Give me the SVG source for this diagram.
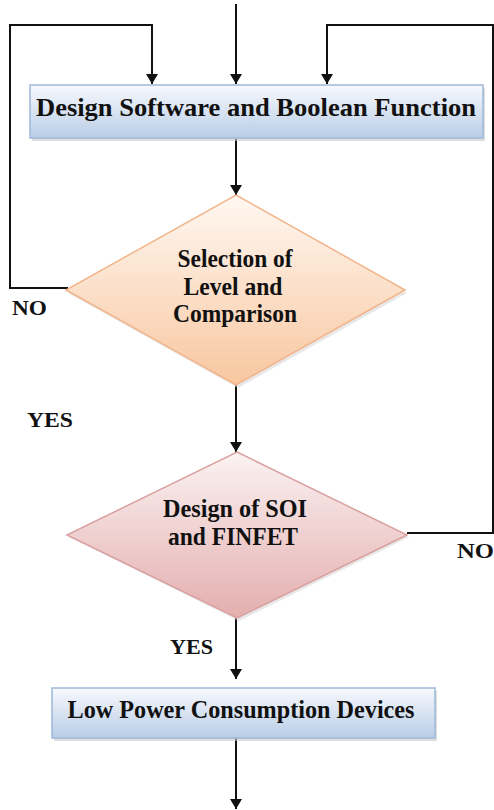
<svg xmlns="http://www.w3.org/2000/svg" width="494" height="810" viewBox="0 0 494 810">
<style>
.t{font-family:'Liberation Serif',serif;font-weight:700;font-size:25px;fill:#111}
.lbl{font-family:'Liberation Serif',serif;font-weight:700;font-size:22px;fill:#111}
.ln{fill:none;stroke:#111;stroke-width:2}
</style>
<defs>
<linearGradient id="gBox" x1="0" y1="0" x2="0" y2="1">
<stop offset="0" stop-color="#f7f9fd"/>
<stop offset="1" stop-color="#b9cde6"/>
</linearGradient>
<linearGradient id="gD1" x1="0" y1="0" x2="0" y2="1">
<stop offset="0" stop-color="#fff8f2"/>
<stop offset="1" stop-color="#f8c7a0"/>
</linearGradient>
<linearGradient id="gD2" x1="0" y1="0" x2="0" y2="1">
<stop offset="0" stop-color="#fbf2f2"/>
<stop offset="1" stop-color="#e4aeae"/>
</linearGradient>
<marker id="ah" viewBox="0 0 10 12" refX="10" refY="6" markerWidth="10" markerHeight="12" markerUnits="userSpaceOnUse" orient="auto">
<path d="M0,0 L10,6 L0,12 z" fill="#111"/>
</marker>
</defs>
<g id="connectors">
<path class="ln" d="M236,4 V84" marker-end="url(#ah)"/>
<path class="ln" d="M68,288 H10 V25 H152 V84" marker-end="url(#ah)"/>
<path class="ln" d="M407,533 H493 V25 H327 V84" marker-end="url(#ah)"/>
<path class="ln" d="M236,139 V195" marker-end="url(#ah)"/>
<path class="ln" d="M236,385 V452" marker-end="url(#ah)"/>
<path class="ln" d="M236,618 V679" marker-end="url(#ah)"/>
<path class="ln" d="M236,738 V809" marker-end="url(#ah)"/>
</g>
<g id="box-design-software">
<rect x="32" y="88" width="453" height="53" fill="#c8c8c8" opacity="0.6"/>
<rect x="30" y="85" width="453" height="53" fill="url(#gBox)" stroke="#9db8da" stroke-width="1.5"/>
<text class="t" x="256" y="116" text-anchor="middle" textLength="440" lengthAdjust="spacingAndGlyphs">Design Software and Boolean Function</text>
</g>
<g id="diamond-selection">
<path d="M238,197 L407,293 L238,388 L68,293 Z" fill="#d8d8d8" opacity="0.6"/>
<path d="M236,195 L405,290 L236,385 L66,290 Z" fill="url(#gD1)" stroke="#f2b48a" stroke-width="1.5"/>
<text class="t" x="235" y="267" text-anchor="middle" textLength="115" lengthAdjust="spacingAndGlyphs">Selection of</text>
<text class="t" x="233" y="295" text-anchor="middle" textLength="99" lengthAdjust="spacingAndGlyphs">Level and</text>
<text class="t" x="235" y="322" text-anchor="middle" textLength="124" lengthAdjust="spacingAndGlyphs">Comparison</text>
</g>
<g id="diamond-soi">
<path d="M239,454 L409,537 L239,621 L69,537 Z" fill="#d8d8d8" opacity="0.6"/>
<path d="M237,452 L407,535 L237,618 L67,535 Z" fill="url(#gD2)" stroke="#d9a0a0" stroke-width="1.5"/>
<text class="t" x="235" y="517" text-anchor="middle" textLength="144" lengthAdjust="spacingAndGlyphs">Design of SOI</text>
<text class="t" x="233" y="545" text-anchor="middle" textLength="130" lengthAdjust="spacingAndGlyphs">and FINFET</text>
</g>
<g id="box-low-power">
<rect x="54" y="691" width="383" height="50" fill="#c8c8c8" opacity="0.6"/>
<rect x="52" y="688" width="383" height="50" fill="url(#gBox)" stroke="#9db8da" stroke-width="1.5"/>
<text class="t" x="241" y="718" text-anchor="middle" textLength="347" lengthAdjust="spacingAndGlyphs">Low Power Consumption Devices</text>
</g>
<g id="labels">
<text class="lbl" x="12" y="315" textLength="35" lengthAdjust="spacingAndGlyphs">NO</text>
<text class="lbl" x="27" y="427" textLength="46" lengthAdjust="spacingAndGlyphs">YES</text>
<text class="lbl" x="457" y="558" textLength="37" lengthAdjust="spacingAndGlyphs">NO</text>
<text class="lbl" x="170" y="654" textLength="43" lengthAdjust="spacingAndGlyphs">YES</text>
</g>
</svg>
